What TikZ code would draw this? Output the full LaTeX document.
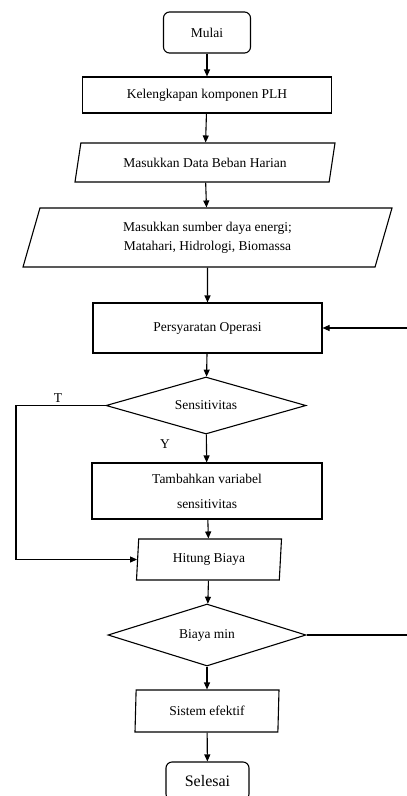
\documentclass[tikz,border=0pt]{standalone}
\usepackage{fontspec}
\setmainfont{Liberation Serif}
\usetikzlibrary{shapes.geometric,arrows.meta}
\begin{document}
\begin{tikzpicture}[x=1pt,y=-1pt,line width=1.1pt,
		every node/.style={font=\fontsize{13.5}{19}\selectfont,inner sep=1pt},
		proses/.style={draw,rectangle,minimum width=#1},
		term/.style={draw,rectangle,rounded corners=6pt,minimum width=#1},
		masukan/.style={draw,trapezium,trapezium stretches body,minimum width=#1},
		keputusan/.style={draw,diamond,aspect=3.5,minimum width=#1},
		arr/.style={-{Triangle[length=7pt,width=6pt]}}]
			\useasboundingbox (0,0) rectangle (407,796);
			\clip (0,0) rectangle (407,796); % Selesai terpotong di bawah
			\node[term=87,minimum height=41] (mulai) at (207,32.5) {Mulai};
			\node[proses=249,minimum height=36] (lengkap) at (207,95) {Kelengkapan komponen PLH};
			\node[masukan=260,minimum height=39,trapezium left angle=63,trapezium right angle=117] (beban) at (205,162.5) {Masukkan Data Beban Harian};
			\node[masukan=369,minimum height=59,trapezium left angle=63,trapezium right angle=117,align=center] (sumber) at (207.5,237.5) {Masukkan sumber daya energi;\\Matahari, Hidrologi, Biomassa};
			\node[proses=229,minimum height=50] (syarat) at (207.5,328) {Persyaratan Operasi};
			\node[keputusan=200,minimum height=57] (sens) at (206,405.5) {Sensitivitas};
			\node[proses=230,minimum height=56,align=center,font=\fontsize{13.5}{25}\selectfont] (tambah) at (207,491) {Tambahkan variabel\\sensitivitas};
			\node[masukan=145,minimum height=41,trapezium left angle=81,trapezium right angle=99] (hitung) at (209,559.5) {Hitung Biaya};
			\node[keputusan=198,minimum height=62] (bmin) at (207,635) {Biaya min};
			\node[masukan=144,minimum height=42,trapezium left angle=84.5,trapezium right angle=95.5] (efektif) at (207,711) {Sistem efektif};
			\node[term=83,minimum height=38,font=\fontsize{16}{19}\selectfont] (selesai) at (207.5,781) {Selesai};
			\node (t) at (58,398) {T};
			\node (y) at (165,444) {Y};
			\coordinate (kiri) at (16,405.5);
			\coordinate (kanan1) at (407,328);
			\coordinate (kanan2) at (407,635);
			% alur utama
			\draw[arr] (mulai) -- (lengkap);
			\draw[arr] (lengkap) -- (beban);
			\draw[arr] (beban) -- (sumber);
			\draw[arr] (sumber) -- (syarat);
			\draw[arr] (syarat) -- (sens);
			\draw[arr] (sens) -- (tambah);
			\draw[arr] (tambah) -- (hitung);
			\draw[arr] (hitung) -- (bmin);
			\draw[arr] (bmin) -- (efektif);
			\draw[arr] (efektif) -- (selesai);
			% cabang
			\draw[arr] (sens.west) -- (kiri) |- (hitung);
			\draw[arr] (kanan1) -- (syarat);
			\draw (bmin.east) -- (kanan2);
		\end{tikzpicture}
\end{document}
